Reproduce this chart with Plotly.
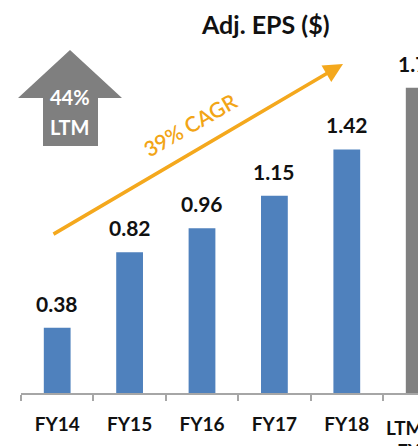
import plotly.graph_objects as go

categories = ["FY14", "FY15", "FY16", "FY17", "FY18", "LTM<br>FY19"]
eps_values = [0.38, 0.82, 0.96, 1.15, 1.42, 1.78]
value_labels = ["0.38", "0.82", "0.96", "1.15", "1.42", "1.78"]
bar_colors = ["#4F81BD"] * 5 + ["#808080"]

FONT = "Lato, 'Open Sans', sans-serif"
W, H = 418, 446
L, B = 21, 53
PW, PH = W - L, H - B
X0, X1 = -0.5, -0.5 + PW / 72.4
Y1 = PH / 171.5


def px(x):
    return (x - L) / PW


def py(y):
    return (PH - y) / PH


def cat_frac(i):
    return (i - X0) / (X1 - X0)


fig = go.Figure()
fig.add_trace(go.Bar(
    x=categories, y=eps_values, marker_color=bar_colors,
    marker_line_width=0, hoverinfo="skip",
))

# value labels above bars (paper x so the cut-off LTM label is still drawn)
for i, (v, t) in enumerate(zip(eps_values, value_labels)):
    fig.add_annotation(x=cat_frac(i), xref="paper", y=v, yref="y",
                       text=f"<b>{t}</b>", showarrow=False,
                       xanchor="center", yanchor="bottom", yshift=10,
                       font=dict(family=FONT, size=21, color="#111111"))

# category label for LTM (centre lies just outside the visible range)
ltm_lines = categories[5].split("<br>")
fig.add_annotation(x=px(384), xref="paper", y=py(414), yref="paper",
                   text=f"<b>{ltm_lines[0]}</b>", showarrow=False,
                   xanchor="left", yanchor="top",
                   font=dict(family=FONT, size=19, color="#111111"))
fig.add_annotation(x=cat_frac(5), xref="paper", y=py(437), yref="paper",
                   text=f"<b>{ltm_lines[1]}</b>", showarrow=False,
                   xanchor="center", yanchor="top",
                   font=dict(family=FONT, size=19, color="#111111"))

# title
fig.add_annotation(x=px(265), y=py(24), xref="paper", yref="paper",
                   text="<b>Adj. EPS ($)</b>", showarrow=False,
                   xanchor="center", yanchor="middle",
                   font=dict(family=FONT, size=25, color="#111111"))

# gray up arrow (LTM growth)
ax = [px(v) for v in (70, 122, 98, 98, 43, 43, 18)]
ay = [py(v) for v in (50, 98, 98, 146, 146, 98, 98)]
path = "M " + " L ".join(f"{a},{b}" for a, b in zip(ax, ay)) + " Z"
fig.add_shape(type="path", path=path, xref="paper", yref="paper",
              fillcolor="#7F7F7F", line_width=0, layer="below")
fig.add_annotation(x=px(70), y=py(97), xref="paper", yref="paper",
                   text="<b>44%</b>", showarrow=False,
                   xanchor="center", yanchor="middle",
                   font=dict(family=FONT, size=20, color="white"))
fig.add_annotation(x=px(70), y=py(127), xref="paper", yref="paper",
                   text="<b>LTM</b>", showarrow=False,
                   xanchor="center", yanchor="middle",
                   font=dict(family=FONT, size=20, color="white"))

# orange CAGR arrow
fig.add_annotation(x=px(343), y=py(64), xref="paper", yref="paper",
                   ax=52 - 343, ay=235 - 64, text="", showarrow=True,
                   arrowhead=2, arrowsize=1.1, arrowwidth=3.5,
                   arrowcolor="#F4A81D", standoff=0)
fig.add_annotation(x=px(190), y=py(124), xref="paper", yref="paper",
                   text="39% CAGR", showarrow=False, textangle=-30,
                   xanchor="center", yanchor="middle",
                   font=dict(family=FONT, size=21, color="#F2A516",
                             weight=600))

fig.update_layout(
    width=W, height=H,
    margin=dict(l=L, r=0, t=0, b=B),
    paper_bgcolor="white", plot_bgcolor="white",
    showlegend=False, bargap=0.63,
    xaxis=dict(
        type="category", range=[X0, X1],
        showline=True, linecolor="#A6A6A6", linewidth=1.5,
        ticks="outside", tickson="boundaries", ticklen=6,
        tickcolor="#A6A6A6", tickwidth=1.5, showgrid=False,
        tickfont=dict(family=FONT, size=19, color="#111111"),
        tickprefix="<b>", ticksuffix="</b>", ticklabelstandoff=13,
    ),
    yaxis=dict(range=[0, Y1], visible=False, showgrid=False,
               zeroline=False),
)

fig.write_html("out.html")
